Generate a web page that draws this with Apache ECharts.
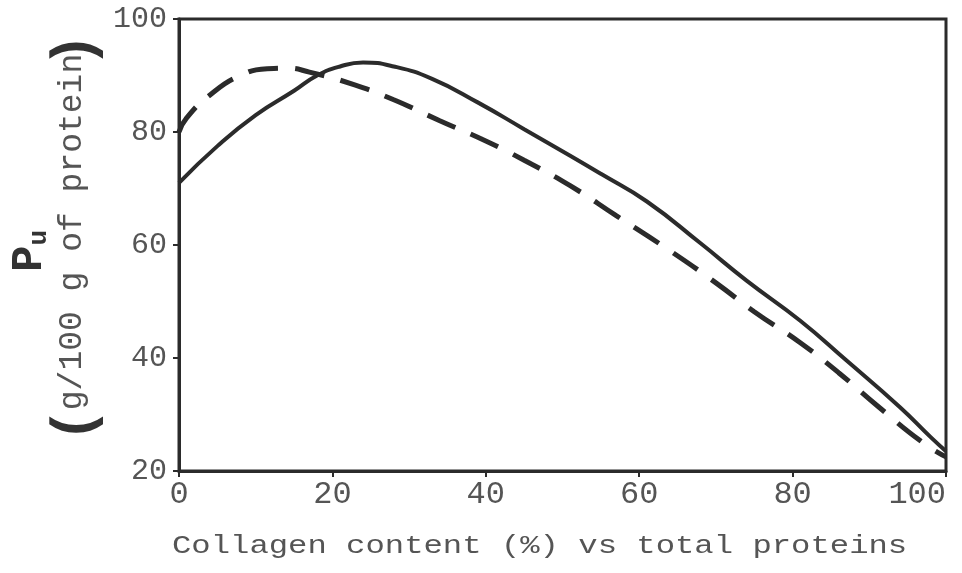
<!DOCTYPE html>
<html style="height: 100%">
<head>
    <meta charset="UTF-8">
    <script src="https://cdn.jsdelivr.net/npm/echarts@6/dist/echarts.min.js"></script>
</head>
<body style="height: 100%; margin: 0; background: #fff">
    <div id="main" style="width: 962px; height: 573px;"></div>
    <script type="text/javascript">
        // collagen content (%) vs Pu
        var solidCurve = [
            [0, 71], [5, 77.5], [10, 83], [15, 87.3], [18, 90], [21, 91.6], [24, 92.3],
            [28, 91.6], [33, 89.4], [39, 85.2], [45, 80.5], [51, 75.8], [55, 72.6],
            [61, 67.7], [68, 60.3], [74, 53.7], [81, 46.6], [87, 39.6], [94, 31.3],
            [98, 26], [100, 23.5]
        ];
        var dashedCurve = [
            [0, 80], [1, 82.5], [4, 86.5], [8, 90], [11.5, 91.2], [14, 91.3], [17, 90.6],
            [23, 88.3], [28, 85.7], [34, 82], [40, 78.4], [45, 75], [51, 70.5],
            [57, 65.2], [64, 59], [70, 53.3], [75, 48.2], [81, 42.7], [86, 37.4],
            [91, 31.6], [97, 25], [100, 22.5]
        ];
        var xTicks = [0, 20, 40, 60, 80, 100];
        var yTicks = [20, 40, 60, 80, 100];

        var font = '"Liberation Mono", "DejaVu Sans Mono", monospace';
        var ink = '#2b2b2b';

        var myChart = echarts.init(document.getElementById('main'));

        var option = {
            animation: false,
            grid: {
                left: 179, right: 16, top: 19, bottom: 102,
                show: true, borderColor: ink, borderWidth: 3
            },
            xAxis: {
                type: 'value',
                min: xTicks[0], max: xTicks[xTicks.length - 1], interval: 20,
                axisLine: { show: true, lineStyle: { color: ink, width: 3 } },
                axisTick: { show: true, length: 6, lineStyle: { color: ink, width: 2 } },
                splitLine: { show: false },
                axisLabel: {
                    color: '#555', fontFamily: font, fontSize: 32, margin: 8,
                    alignMaxLabel: 'right'
                }
            },
            yAxis: {
                type: 'value',
                min: yTicks[0], max: yTicks[yTicks.length - 1], interval: 20,
                axisLine: { show: true, lineStyle: { color: ink, width: 3 } },
                axisTick: { show: true, length: 6, lineStyle: { color: ink, width: 2 } },
                splitLine: { show: false },
                axisLabel: { color: '#555', fontFamily: font, fontSize: 30, margin: 12 }
            },
            graphic: [
                {
                    type: 'text', x: 172, y: 546, scaleX: 1.24,
                    style: {
                        text: 'Collagen content (%) vs total proteins',
                        font: '26px ' + font, fill: '#555',
                        align: 'left', verticalAlign: 'middle'
                    }
                },
                {
                    type: 'text', x: 8, y: 272, rotation: Math.PI / 2,
                    style: {
                        text: '{p|P}{u|u}',
                        rich: {
                            p: { font: 'bold 44px ' + font, fill: '#333' },
                            u: { font: 'bold 26px ' + font, fill: '#333', padding: [18, 0, 0, 0] }
                        }
                    }
                },
                {
                    type: 'text', x: 72, y: 232, rotation: Math.PI / 2,
                    style: {
                        text: 'g/100 g of protein',
                        font: '33px ' + font, fill: '#555',
                        align: 'center', verticalAlign: 'middle'
                    }
                },
                {
                    type: 'text', x: 76, y: 425, rotation: Math.PI / 2,
                    style: {
                        text: '(',
                        font: 'bold 58px ' + font, fill: '#333',
                        align: 'center', verticalAlign: 'middle'
                    }
                },
                {
                    type: 'text', x: 76, y: 50, rotation: Math.PI / 2,
                    style: {
                        text: ')',
                        font: 'bold 58px ' + font, fill: '#333',
                        align: 'center', verticalAlign: 'middle'
                    }
                }
            ],
            series: [
                {
                    type: 'line',
                    data: solidCurve,
                    smooth: true,
                    showSymbol: false,
                    lineStyle: { color: ink, width: 4 }
                },
                {
                    type: 'line',
                    data: dashedCurve,
                    smooth: true,
                    showSymbol: false,
                    lineStyle: { color: ink, width: 5, type: [30, 17] }
                }
            ]
        };

        myChart.setOption(option);
    </script>
</body>
</html>
